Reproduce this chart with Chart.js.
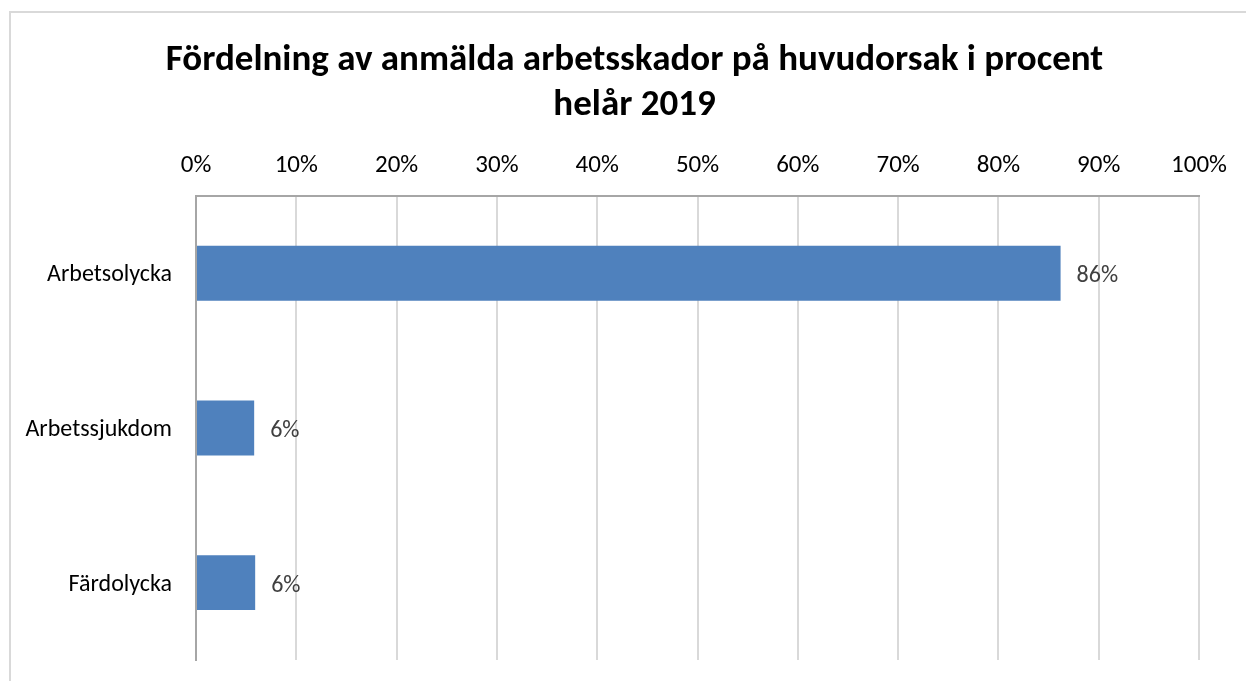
<!DOCTYPE html>
<html>
<head>
<meta charset="utf-8">
<script src="https://cdn.jsdelivr.net/npm/chart.js@4"></script>
<style>
  html, body { margin: 0; padding: 0; background: #fff; overflow: hidden; }
  #wrap { position: relative; width: 1246px; height: 681px; }
  #frame { position: absolute; left: 9px; top: 11px; width: 1300px; height: 700px; border: 2px solid #d9d9d9; box-sizing: border-box; }
  canvas { position: absolute; left: 0; top: 0; }
</style>
</head>
<body>
<div id="wrap">
  <div id="frame"></div>
  <canvas id="chart" width="1246" height="681"></canvas>
</div>
<script>
const categories = ["Arbetsolycka", "Arbetssjukdom", "Färdolycka"];
const shares = [0.862, 0.058, 0.059];
const titleLines = ["Fördelning av anmälda arbetsskador på huvudorsak i procent", "helår 2019"];

const FONT = "Carlito, 'Open Sans', 'Liberation Sans', sans-serif";

// draws "86%" etc. just right of each bar
const barLabels = {
  id: "barLabels",
  afterLayout(chart) {
    // let the long category names draw left of the padded area without clipping
    chart.scales.y.left = 0;
  },
  afterDatasetsDraw(chart) {
    const ctx = chart.ctx;
    const meta = chart.getDatasetMeta(0);
    ctx.save();
    ctx.font = "24px " + FONT;
    ctx.fillStyle = "#404040";
    ctx.textAlign = "left";
    ctx.textBaseline = "middle";
    meta.data.forEach((bar, i) => {
      ctx.fillText(Math.round(shares[i] * 100) + "%", bar.x + 16, bar.y + 3);
    });
    ctx.restore();
  },
};

new Chart(document.getElementById("chart"), {
  type: "bar",
  data: {
    labels: categories,
    datasets: [
      {
        data: shares,
        backgroundColor: "#4f81bd",
        borderWidth: 0,
        categoryPercentage: 1,
        barPercentage: 0.355,
      },
    ],
  },
  options: {
    responsive: false,
    animation: false,
    indexAxis: "y",
    layout: { padding: { left: 70, right: 47, top: 0, bottom: 21 } },
    scales: {
      x: {
        position: "top",
        min: 0,
        max: 1,
        afterFit: scale => {
          scale.height = 68;
          scale.paddingLeft = 0;
          scale.paddingRight = 0;
        },
        ticks: {
          stepSize: 0.1,
          padding: 15,
          color: "#000",
          font: { family: FONT, size: 25 },
          callback: value => Math.round(value * 100) + "%",
        },
        grid: { color: "#d9d9d9", lineWidth: 2, drawTicks: false },
        border: { display: true, color: "#a6a6a6", width: 2 },
      },
      y: {
        afterFit: scale => {
          scale.width = 126;
          scale.paddingTop = 0;
          scale.paddingBottom = 0;
        },
        ticks: {
          padding: 24,
          labelOffset: 2,
          color: "#000",
          font: { family: FONT, size: 24 },
        },
        grid: { display: false, drawTicks: false },
        border: { display: true, color: "#a6a6a6", width: 2 },
      },
    },
    plugins: {
      legend: { display: false },
      tooltip: { enabled: false },
      title: {
        display: true,
        text: titleLines,
        color: "#000",
        font: { family: FONT, size: 37, weight: "bold", lineHeight: 1.216 },
        padding: { top: 38, bottom: 0 },
      },
    },
  },
  plugins: [barLabels],
});
</script>
</body>
</html>
